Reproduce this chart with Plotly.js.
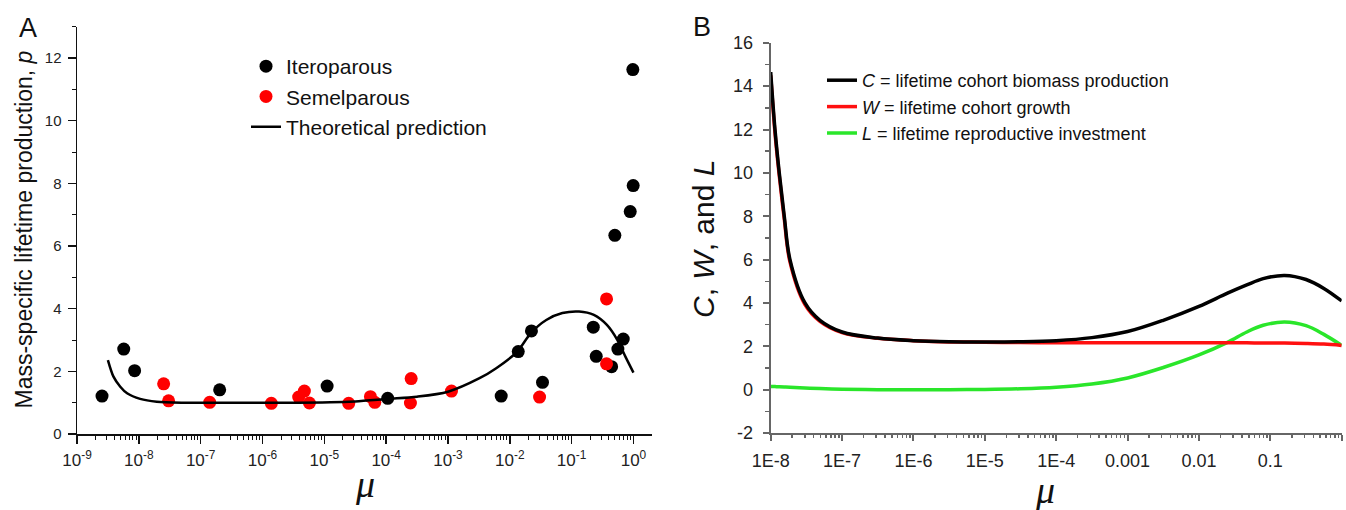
<!DOCTYPE html>
<html>
<head>
<meta charset="utf-8">
<script src="https://cdn.plot.ly/plotly-3.0.1.min.js"></script>
<style>html,body{margin:0;padding:0;background:#fff;}#chart{width:1346px;height:510px;}</style>
</head>
<body>
<div id="chart"></div>
<script>
// ---------- Panel A data ----------
const iteroMu = [2.54e-9, 5.7e-9, 8.55e-9, 2.03e-7, 1.11e-5, 1.06e-4, 7.26e-3, 0.0137, 0.0224, 0.0338, 0.224, 0.25, 0.443, 0.56, 0.684, 0.5, 0.887, 0.977, 0.99];
const iteroP  = [1.21, 2.71, 2.02, 1.41, 1.53, 1.14, 1.21, 2.63, 3.29, 1.65, 3.41, 2.48, 2.15, 2.71, 3.03, 6.34, 7.10, 11.63, 7.93];

const semelMu = [2.52e-8, 3.03e-8, 1.4e-7, 1.39e-6, 3.85e-6, 4.76e-6, 5.74e-6, 2.48e-5, 5.57e-5, 6.55e-5, 2.54e-4, 2.47e-4, 1.14e-3, 0.0303, 0.367, 0.367];
const semelP  = [1.60, 1.06, 1.01, 0.98, 1.18, 1.37, 0.99, 0.98, 1.19, 1.01, 1.77, 0.99, 1.37, 1.18, 4.31, 2.24];

const theoryMu = [3.16e-9, 3.89e-9, 5.01e-9, 6.46e-9, 1.05e-8, 1.95e-8, 5.37e-8, 3.16e-7, 3.16e-6, 1.26e-5, 3.16e-5, 1.07e-4, 3.16e-4, 1e-3, 3.24e-3, 6.03e-3, 0.0132, 0.0219, 0.0389, 0.0708, 0.132, 0.229, 0.372, 0.55, 0.741, 1.0];
const theoryP  = [2.36, 1.83, 1.51, 1.30, 1.12, 1.03, 1.00, 1.00, 1.00, 1.01, 1.04, 1.12, 1.19, 1.35, 1.78, 2.10, 2.63, 3.22, 3.64, 3.86, 3.91, 3.80, 3.48, 3.00, 2.47, 1.96];

const tickValsA = [1e-9, 1e-8, 1e-7, 1e-6, 1e-5, 1e-4, 1e-3, 1e-2, 1e-1, 1];
const tickTextA = ['10<sup>-9</sup>','10<sup>-8</sup>','10<sup>-7</sup>','10<sup>-6</sup>','10<sup>-5</sup>','10<sup>-4</sup>','10<sup>-3</sup>','10<sup>-2</sup>','10<sup>-1</sup>','10<sup>0</sup>'];

// ---------- Panel B data ----------
const muB = [1e-8, 1.148e-8, 1.318e-8, 1.549e-8, 1.862e-8, 3.02e-8, 4.898e-8, 1e-7, 3.162e-7, 1e-6, 3.162e-6, 1e-5, 3.162e-5, 1e-4, 3.162e-4, 1e-3, 3.162e-3, 0.01, 0.0251, 0.0468, 0.0794, 0.1585, 0.3162, 0.5623, 1];
const cohortC = [14.65, 12.0, 10.0, 8.0, 6.0, 4.0, 3.2, 2.66, 2.38, 2.26, 2.21, 2.20, 2.21, 2.26, 2.40, 2.68, 3.20, 3.84, 4.45, 4.83, 5.12, 5.27, 5.08, 4.67, 4.09];
const growthW = [14.5, 11.85, 9.87, 7.88, 5.89, 3.92, 3.15, 2.63, 2.37, 2.26, 2.20, 2.19, 2.17, 2.16, 2.16, 2.16, 2.16, 2.16, 2.16, 2.16, 2.15, 2.15, 2.13, 2.10, 2.04];
const reproL  = [0.15, 0.14, 0.13, 0.12, 0.11, 0.08, 0.05, 0.02, 0.0, -0.01, 0.0, 0.01, 0.04, 0.11, 0.26, 0.54, 1.02, 1.60, 2.18, 2.66, 2.97, 3.12, 2.95, 2.55, 2.04];

const tickValsB = [1e-8, 1e-7, 1e-6, 1e-5, 1e-4, 1e-3, 1e-2, 1e-1, 1];
const tickTextB = ['1E-8','1E-7','1E-6','1E-5','1E-4','0.001','0.01','0.1','1'];
const yTickValsB = [-2, 0, 2, 4, 6, 8, 10, 12, 14, 16];
const yTickTextB = ['-2', '0', '2', '4', '6', '8', '10', '12', '14', '16'];

// minor tick positions (2..9 per decade)
function minorLog(lo, hi) {
  const out = [];
  for (let e = lo; e < hi; e++) for (let k = 2; k <= 9; k++) out.push(k * Math.pow(10, e));
  return out;
}

const W = 1346, H = 510;
const px = v => v / W, py = v => (H - v) / H;

const traces = [
  {x: iteroMu, y: iteroP, type: 'scatter', mode: 'markers', name: 'Iteroparous',
   marker: {color: '#000', size: 13}, xaxis: 'x', yaxis: 'y', legend: 'legend'},
  {x: semelMu, y: semelP, type: 'scatter', mode: 'markers', name: 'Semelparous',
   marker: {color: '#ff0000', size: 13}, xaxis: 'x', yaxis: 'y', legend: 'legend'},
  {x: theoryMu, y: theoryP, type: 'scatter', mode: 'lines', name: 'Theoretical prediction',
   line: {color: '#000', width: 2.5, shape: 'spline', smoothing: 0.8}, xaxis: 'x', yaxis: 'y', legend: 'legend'},
  {x: muB, y: reproL, type: 'scatter', mode: 'lines', name: '<i>L</i> = lifetime reproductive investment',
   line: {color: '#2ae62a', width: 3.5, shape: 'spline', smoothing: 1.0}, xaxis: 'x2', yaxis: 'y2', legend: 'legend2', legendrank: 3},
  {x: muB, y: growthW, type: 'scatter', mode: 'lines', name: '<i>W</i> = lifetime cohort growth',
   line: {color: '#ff1010', width: 3.5, shape: 'spline', smoothing: 1.0}, xaxis: 'x2', yaxis: 'y2', legend: 'legend2', legendrank: 2},
  {x: muB, y: cohortC, type: 'scatter', mode: 'lines', name: '<i>C</i> = lifetime cohort biomass production',
   line: {color: '#000', width: 3.5, shape: 'spline', smoothing: 1.0}, xaxis: 'x2', yaxis: 'y2', legend: 'legend2', legendrank: 1}
];

const axA = {showgrid: false, zeroline: false, showline: true, linecolor: '#111', linewidth: 1.5,
  ticks: 'outside', tickcolor: '#111', tickwidth: 1.5, ticklen: 8, tickfont: {size: 15, color: '#222'}};
const axB = {showgrid: false, zeroline: false, showline: true, linecolor: '#666', linewidth: 2,
  ticks: 'outside', tickcolor: '#666', tickwidth: 2, ticklen: 6, tickfont: {size: 18, color: '#222'}};

const layout = {
  width: W, height: H,
  margin: {l: 0, r: 0, t: 0, b: 0},
  paper_bgcolor: '#fff', plot_bgcolor: '#fff',
  font: {family: '"Liberation Sans", Arial, sans-serif', color: '#111'},
  showlegend: true,
  xaxis: Object.assign({}, axA, {domain: [px(77), px(652)], type: 'log', range: [-9, 0.30], anchor: 'y',
    tickmode: 'array', tickvals: tickValsA, ticktext: tickTextA, ticklabelstandoff: 2, tickfont: {size: 17, color: '#222'},
    minor: {tickmode: 'array', tickvals: minorLog(-9, 0), ticks: 'outside', ticklen: 4, tickwidth: 1, tickcolor: '#111'}}),
  yaxis: Object.assign({}, axA, {domain: [(H - 434) / H, (H - 26.7) / H], range: [0, 13], anchor: 'x',
    tick0: 0, dtick: 2, ticklabelstandoff: 3,
    minor: {tick0: 0, dtick: 1, ticks: 'outside', ticklen: 4, tickwidth: 1, tickcolor: '#111'}}),
  xaxis2: Object.assign({}, axB, {domain: [px(770.7), px(1341.7)], type: 'log', range: [-8, 0], anchor: 'y2',
    tickmode: 'array', tickvals: tickValsB, ticktext: tickTextB, ticklabelstandoff: 4,
    minor: {tickmode: 'array', tickvals: minorLog(-8, 0), ticks: 'outside', ticklen: 3, tickwidth: 1.5, tickcolor: '#666'}}),
  yaxis2: Object.assign({}, axB, {domain: [(H - 433) / H, (H - 42.8) / H], range: [-2, 16], anchor: 'x2',
    tickmode: 'array', tickvals: yTickValsB, ticktext: yTickTextB, ticklabelstandoff: 6,
    minor: {tick0: 0, dtick: 1, ticks: 'outside', ticklen: 4, tickwidth: 1.5, tickcolor: '#666'}}),
  legend: {x: px(246), xanchor: 'left', y: py(46), yanchor: 'top', bgcolor: 'rgba(0,0,0,0)',
    font: {size: 21, color: '#111'}, itemwidth: 30, tracegroupgap: 0},
  legend2: {x: px(822), xanchor: 'left', y: py(62), yanchor: 'top', bgcolor: 'rgba(0,0,0,0)',
    font: {size: 18, color: '#111'}, itemwidth: 30, traceorder: 'normal'},
  annotations: [
    {text: 'A', x: px(28), y: py(28), xref: 'paper', yref: 'paper', showarrow: false, xanchor: 'center', yanchor: 'middle', font: {size: 27, color: '#111'}},
    {text: 'B', x: px(702), y: py(27), xref: 'paper', yref: 'paper', showarrow: false, xanchor: 'center', yanchor: 'middle', font: {size: 27, color: '#111'}},
    {text: 'Mass-specific lifetime production, <i>p</i>', x: px(23.5), y: py(230), xref: 'paper', yref: 'paper', showarrow: false,
     textangle: -90, xanchor: 'center', yanchor: 'middle', font: {size: 23, color: '#111'}},
    {text: '<i>C</i>, <i>W</i>, and <i>L</i>', x: px(703), y: py(239), xref: 'paper', yref: 'paper', showarrow: false,
     textangle: -90, xanchor: 'center', yanchor: 'middle', font: {size: 30, color: '#111'}},
    {text: '<i>μ</i>', x: px(365), y: py(484), xref: 'paper', yref: 'paper', showarrow: false, xanchor: 'center', yanchor: 'middle',
     font: {size: 38, color: '#111', family: '"Liberation Serif", "Times New Roman", serif'}},
    {text: '<i>μ</i>', x: px(1045), y: py(490), xref: 'paper', yref: 'paper', showarrow: false, xanchor: 'center', yanchor: 'middle',
     font: {size: 38, color: '#111', family: '"Liberation Serif", "Times New Roman", serif'}}
  ]
};

Plotly.newPlot('chart', traces, layout, {staticPlot: true, displayModeBar: false});
</script>
</body>
</html>
